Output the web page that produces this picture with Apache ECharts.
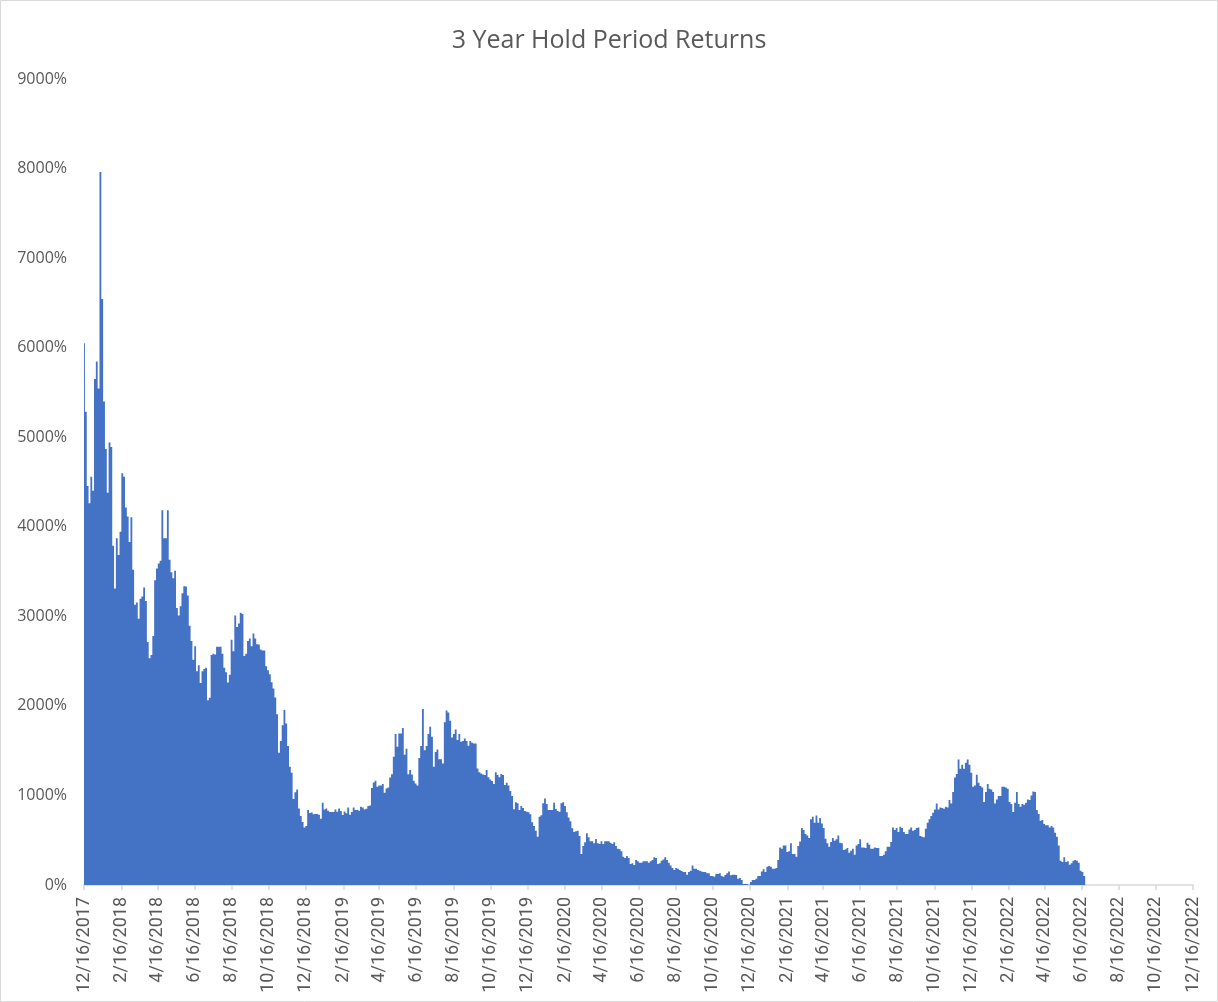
<!DOCTYPE html>
<html>
<head>
<meta charset="utf-8">
<script src="https://cdn.jsdelivr.net/npm/echarts@6/dist/echarts.min.js"></script>
<style>
html,body{margin:0;padding:0;background:#ffffff;}
#chart{width:1218px;height:1002px;}
</style>
</head>
<body>
<div id="chart"></div>
<script>
const chartTitle = '3 Year Hold Period Returns';
const startDate = '12/16/2017';
const stepDays = 3;
// 3-year hold period return (%), sampled every 3rd day from 12/16/2017
const returnsPct = [
6049,5285,4454,4262,4558,4402,5649,5846,5545,7961,
6543,5399,4869,4381,4942,4890,3789,3311,3872,3685,
3945,4599,4558,4215,4116,3830,4106,3519,3129,3155,
2973,3196,3222,3321,3170,2713,2531,2568,2781,3404,
3534,3591,3622,4184,3872,3872,4184,3633,3493,3425,
3508,3092,3009,3113,3259,3337,3332,3233,2895,2724,
2516,2666,2386,2453,2256,2386,2412,2427,2064,2090,
2568,2583,2573,2661,2661,2661,2583,2427,2375,2261,
2349,2739,2609,3009,2880,2921,3040,3025,2557,2583,
2724,2752,2667,2808,2752,2689,2685,2630,2618,2618,
2444,2399,2354,2265,2194,2094,1908,1477,1607,1785,
1953,1804,1551,1320,1253,959,1037,1067,855,770,
703,643,658,837,805,810,790,792,792,785,
740,918,844,855,829,814,814,814,844,818,
855,825,781,822,800,866,785,814,866,837,
837,829,874,866,844,851,881,889,1082,1145,
1164,1097,1112,1112,1127,1030,1078,1090,1201,1238,
1432,1685,1544,1692,1692,1752,1454,1521,1238,1283,
1235,1164,1134,1112,1417,1551,1964,1506,1551,1685,
1767,1655,1320,1485,1514,1403,1403,1358,1816,1949,
1927,1834,1648,1685,1737,1618,1685,1600,1607,1637,
1607,1555,1607,1589,1581,1581,1302,1258,1246,1235,
1228,1284,1202,1179,1161,1127,1258,1228,1202,1239,
1228,1116,1142,1112,1049,993,845,923,912,837,
882,860,826,819,811,789,700,659,607,540,
763,778,912,967,904,837,837,837,919,848,
826,819,912,923,882,811,755,711,633,592,
599,607,547,346,435,476,577,532,488,488,
465,514,465,458,488,458,488,488,488,473,
458,476,435,405,398,376,316,301,323,301,
234,242,223,279,264,249,249,264,264,264,
249,264,279,309,301,234,242,271,286,309,
279,249,219,190,167,190,182,167,156,145,
145,115,145,160,219,182,182,167,160,152,
145,145,130,130,100,100,93,122,122,130,
100,93,111,130,152,108,115,115,111,70,
78,56,11,11,11,4,33,56,56,70,
100,100,152,175,145,205,212,205,182,182,
190,279,420,405,442,442,368,376,465,346,
346,316,435,487,636,614,569,554,524,733,
762,696,777,696,748,688,636,517,465,428,
480,524,495,510,554,472,465,390,398,413,
361,383,405,338,442,457,510,420,420,413,
472,450,405,405,420,413,413,323,323,338,
376,428,428,480,643,614,636,591,651,636,
591,569,569,621,643,606,614,636,643,547,
539,532,628,696,733,770,807,844,911,844,
866,859,852,874,866,948,911,1038,1201,1239,
1402,1298,1343,1298,1365,1402,1343,1253,1097,1112,
1231,1142,1105,1090,926,1038,1127,1075,1067,1038,
911,956,993,993,1097,1097,1090,1075,926,904,
815,919,1038,904,874,904,896,919,956,948,
1000,1045,1038,837,792,718,725,681,666,666,
643,658,643,584,539,442,271,256,309,256,
264,227,242,271,279,271,249,160,145,100
];
const tickLabels = [
'12/16/2017','2/16/2018','4/16/2018','6/16/2018','8/16/2018','10/16/2018',
'12/16/2018','2/16/2019','4/16/2019','6/16/2019','8/16/2019','10/16/2019',
'12/16/2019','2/16/2020','4/16/2020','6/16/2020','8/16/2020','10/16/2020',
'12/16/2020','2/16/2021','4/16/2021','6/16/2021','8/16/2021','10/16/2021',
'12/16/2021','2/16/2022','4/16/2022','6/16/2022','8/16/2022','10/16/2022',
'12/16/2022'
];
const yMin = 0, yMax = 9000, yStep = 1000;

function parseMDY(s) {
  const p = s.split('/').map(Number);
  return Date.UTC(p[2], p[0] - 1, p[1]);
}
function fmtMDY(t) {
  const d = new Date(Math.round(t));
  return (d.getUTCMonth() + 1) + '/' + d.getUTCDate() + '/' + d.getUTCFullYear();
}
const start = startDate.split('/').map(Number);
const seriesData = returnsPct.map(function (v, i) {
  return [Date.UTC(start[2], start[0] - 1, start[1] + i * stepDays), v];
});
const tickTimes = tickLabels.map(parseMDY);

const chart = echarts.init(document.getElementById('chart'), null, {renderer: 'canvas'});
chart.setOption({
  animation: false,
  backgroundColor: '#ffffff',
  title: {
    text: chartTitle,
    left: 'center',
    top: 23,
    textStyle: {fontFamily: 'Open Sans', fontSize: 25, fontWeight: 'normal', color: '#595959'}
  },
  grid: {left: 84, right: 25, top: 79, bottom: 117, containLabel: false},
  xAxis: {
    type: 'value',
    scale: true,
    min: tickTimes[0],
    max: tickTimes[tickTimes.length - 1],
    axisLine: {show: true, onZero: false, lineStyle: {color: '#d9d9d9', width: 1.5}},
    axisTick: {show: true, customValues: tickTimes, length: 5, lineStyle: {color: '#d9d9d9', width: 1.5}},
    axisLabel: {
      customValues: tickTimes,
      rotate: 90,
      margin: 12,
      color: '#595959',
      fontFamily: 'Roboto',
      fontSize: 18,
      hideOverlap: false,
      formatter: function (v) { return fmtMDY(v); }
    },
    splitLine: {show: false}
  },
  yAxis: {
    type: 'value',
    min: yMin,
    max: yMax,
    interval: yStep,
    axisLine: {show: false},
    axisTick: {show: false},
    splitLine: {show: false},
    axisLabel: {
      formatter: function (v) { return v + '%'; },
      color: '#595959', fontFamily: 'Open Sans', fontSize: 16, margin: 17
    }
  },
  series: [{
    type: 'bar',
    data: seriesData,
    barWidth: '100%',
    large: true,
    largeThreshold: 100,
    itemStyle: {color: '#4472C4'},
    emphasis: {disabled: true}
  }],
  graphic: [{
    type: 'rect',
    silent: true,
    z: 100,
    shape: {x: 0.5, y: 0.5, width: 1217, height: 1001},
    style: {fill: null, stroke: '#d9d9d9', lineWidth: 1}
  }]
});
</script>
</body>
</html>
